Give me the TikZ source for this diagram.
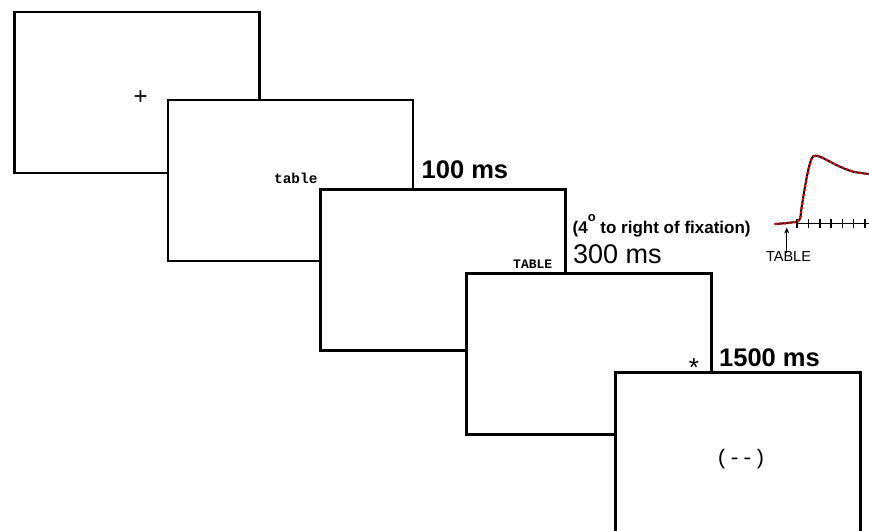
\documentclass[tikz,border=0pt]{standalone}
\usepackage{fontspec}
\setmainfont{Liberation Sans}
\newfontfamily\monofont{Liberation Mono}
\usetikzlibrary{arrows.meta}
\begin{document}
\begin{tikzpicture}[x=1pt,y=-1pt,
  screen/.style={draw, line width=2.6pt, fill=white, minimum width=245pt, minimum height=161pt, inner sep=0pt},
  dur/.style={font=\fontsize{25.5}{30}\selectfont\bfseries, inner sep=0pt, anchor=base west},
  stim/.style={font=\monofont\bfseries\fontsize{14.4}{16}\selectfont, inner sep=0pt, anchor=base west},
  sym/.style={font=\monofont\fontsize{22}{24}\selectfont, inner sep=0pt, anchor=base},
  trace/.style={line width=2pt, line join=round, line cap=round},
  redtrace/.style={red, line width=2.3pt, dash pattern=on 2pt off 2.5pt},
]
\useasboundingbox (0,0) rectangle (869,530);
% screens
\node[screen] (s1) at (137,92.3) {};
\node[sym, font=\monofont\fontsize{24}{26}\selectfont] (plus) at (140.5,104.5) {+};
\node[screen] (s2) at (290.5,180.5) {};
\node[stim] (w1) at (274,183.3) {table};
\node[screen] (s3) at (443,270) {};
\node[stim, font=\monofont\bfseries\fontsize{13}{15}\selectfont] (w2) at (513,268.5) {TABLE};
\node[screen] (s4) at (588.8,353.8) {};
\node[sym, font=\monofont\fontsize{26}{28}\selectfont] (ast) at (694,377.5) {*};
\node[screen] (s5) at (738.2,453.2) {};
\node[sym, font=\monofont\fontsize{21}{23}\selectfont] (mask) at (741,464) {(-{}-)};
% durations
\node[dur] (d1) at (421.5,178.3) {100 ms};
\node[dur, font=\fontsize{27}{30}\selectfont] (d2) at (573,263.3) {300 ms};
\node[dur] (d3) at (719,366) {1500 ms};
\node[inner sep=0pt, anchor=base west, font=\fontsize{17}{20}\selectfont\bfseries] (loc) at (572.5,233.3)
  {(4\raisebox{11.5pt}{\fontsize{13}{13}\selectfont o} to right of fixation)};
% waveform
\draw[line width=1.6pt] (797,223.5) -- (869,223.5);
\foreach \tx in {797,808.3,819.7,831,842.3,853.6,864.9}
  \draw[line width=1.6pt] (\tx,219.3) -- (\tx,227.7);
\draw[trace]
  plot[smooth, tension=0.5] coordinates {(775,224) (790,222.7) (799.3,220) (801.7,206.7) (805,186.7) (808.3,170) (811.7,158.3) (815,155.7) (820,156.7) (830,161.7) (840,166.7) (853.3,171.7) (869,174)};
\draw[redtrace]
  plot[smooth, tension=0.5] coordinates {(775,224) (790,222.7) (799.3,220) (801.7,206.7) (805,186.7) (808.3,170) (811.7,158.3) (815,155.7) (820,156.7) (830,161.7) (840,166.7) (853.3,171.7) (869,174)};
\node[inner sep=0pt, font=\fontsize{14.5}{16}\selectfont] (tl) at (788.5,256.5) {TABLE};
\coordinate (tp) at (786.7,227.5);
\draw[-{Stealth[length=6pt,width=5pt]}, line width=1pt] ([yshift=-1.5pt]tl.north -| tp) -- (tp);
\end{tikzpicture}
\end{document}
